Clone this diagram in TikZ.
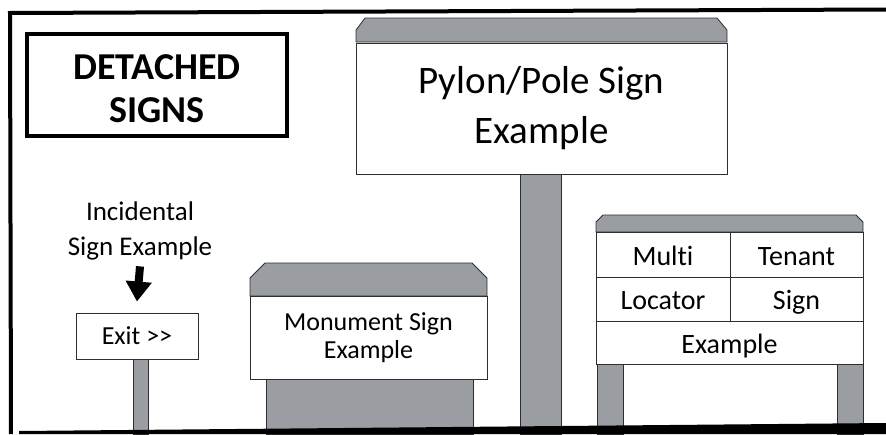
\documentclass[tikz,border=0pt]{standalone}
\usepackage{fontspec}
\setmainfont{Carlito}[Ligatures=NoCommon]
\usetikzlibrary{arrows.meta}
\definecolor{signgray}{RGB}{154,158,163}
\definecolor{edge}{RGB}{45,45,45}
\begin{document}
\begin{tikzpicture}[x=1pt,y=-1pt,
  graypart/.style={fill=signgray,draw=edge,line width=0.8pt},
  panel/.style={draw=edge,fill=white,line width=0.9pt,inner sep=0pt,align=center},
  cell/.style={panel,font=\fontsize{28}{30}\selectfont,text height=18pt,text depth=0pt,yshift=-1.5pt},
  lbl/.style={inner sep=0pt,align=center},
]
\useasboundingbox (0,0) rectangle (886,434);
% outer frame
\draw[line width=4pt,line join=miter] (11,434) -- (10,13) -- (886,9.5);
% title
\node[draw,line width=3.5pt,minimum width=260pt,minimum height=102pt,inner sep=0pt] (title) at (157,85) {};
\node[lbl,font=\fontsize{38}{43}\selectfont\bfseries] (titletext) at (157,89) {DETACHED\\SIGNS};
% incidental sign
\node[lbl,font=\fontsize{27}{35}\selectfont] (inc) at (140,231) {Incidental\\Sign Example};
\fill[graypart] (133,359) rectangle (148,434);
\node[panel,minimum width=122pt,minimum height=46pt,font=\fontsize{26}{30}\selectfont] (exit) at (137,336) {Exit >\kern0pt>};
\draw[line width=8pt,-{Triangle[width=25pt,length=20pt]}] ([yshift=-6pt]inc.south) -- ([yshift=11pt]exit.north);
% monument sign
\fill[graypart] (266,379) rectangle (473,434);
\draw[graypart] (250,296) -- (250,278) -- (265,263) -- (472,263) -- (487,278) -- (487,296) -- cycle;
\node[panel,minimum width=237pt,minimum height=83pt,font=\fontsize{26}{28}\selectfont] (mon) at (368.5,337.5) {Monument Sign\\Example};
% pylon sign
\fill[graypart] (520,173) rectangle (561,434);
\draw[graypart] (356,42) -- (356,30) -- (365,18) -- (717,18) -- (727,30) -- (727,42) -- cycle;
\node[panel,minimum width=371pt,minimum height=131pt,font=\fontsize{39}{50}\selectfont] (pylon) at (541.5,108.5) {Pylon/Pole Sign\\Example};
% multi tenant sign
\fill[graypart] (597,364) rectangle (623,434);
\fill[graypart] (837,364) rectangle (863,434);
\draw[graypart] (596,232) -- (596,222) -- (603,215) -- (856,215) -- (863,222) -- (863,232) -- cycle;
\node[panel,minimum width=134pt,minimum height=45pt] (m1box) at (663,254.5) {};
\node[panel,minimum width=133pt,minimum height=45pt] (m2box) at (796.5,254.5) {};
\node[panel,minimum width=134pt,minimum height=44pt] (m3box) at (663,299) {};
\node[panel,minimum width=133pt,minimum height=44pt] (m4box) at (796.5,299) {};
\node[panel,minimum width=267pt,minimum height=43pt] (m5box) at (729.5,342.5) {};
\node[cell,draw=none,fill=none] (m1) at (m1box) {Multi};
\node[cell,draw=none,fill=none] (m2) at (m2box) {Tenant};
\node[cell,draw=none,fill=none] (m3) at (m3box) {Locator};
\node[cell,draw=none,fill=none] (m4) at (m4box) {Sign};
\node[cell,draw=none,fill=none] (m5) at (m5box) {Example};
% ground bar
\fill[black] (19,431) -- (886,423) -- (886,434) -- (19,434) -- cycle;
\end{tikzpicture}
\end{document}
